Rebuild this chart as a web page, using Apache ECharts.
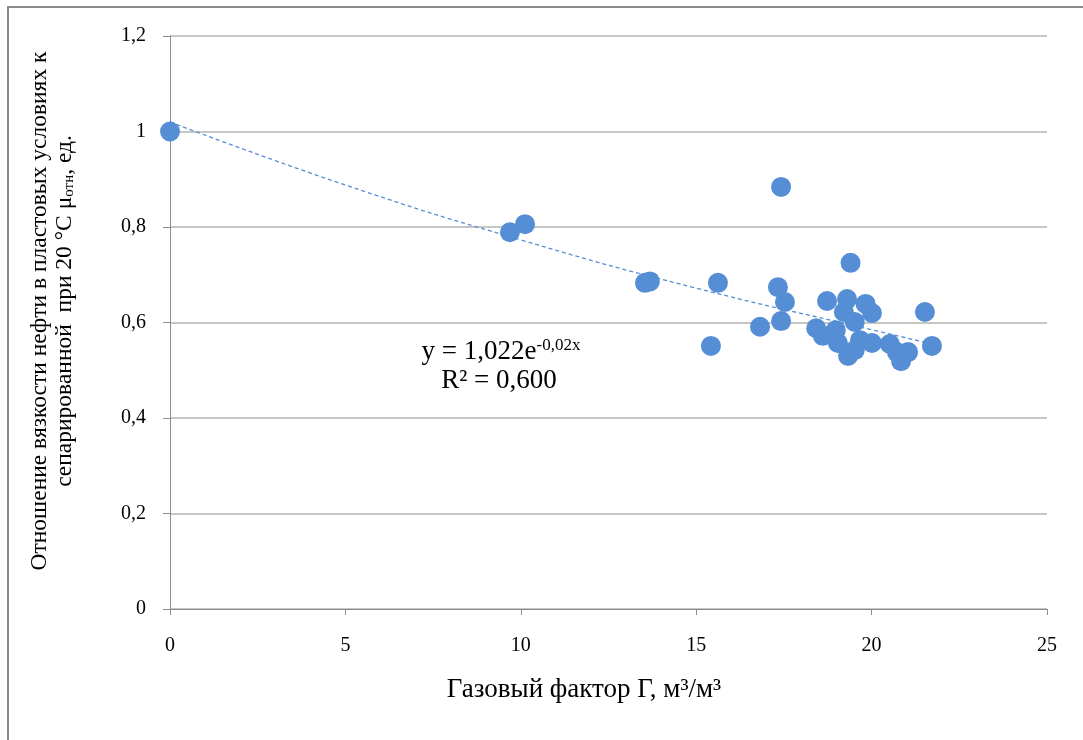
<!DOCTYPE html>
<html>
<head>
<meta charset="utf-8">
<script src="https://cdn.jsdelivr.net/npm/echarts@6/dist/echarts.min.js"></script>
<style>
html,body{margin:0;padding:0;background:#fff;}
#c{width:1083px;height:740px;}
</style>
</head>
<body>
<div id="c"></div>
<script>
// Gas factor (x) and relative viscosity (y)
const gasFactor = [0, 9.69, 10.12, 13.54, 13.68, 15.42, 15.62, 16.82, 17.33, 17.42, 17.42, 17.53,
  18.73, 18.42, 18.61, 18.98, 19.04, 19.40, 19.30, 19.21, 19.52, 19.52, 19.33, 19.67,
  19.83, 20.01, 20.01, 20.52, 20.72, 20.84, 21.04, 21.52, 21.72];
const viscosityRatio = [1.0, 0.789, 0.806, 0.683, 0.686, 0.551, 0.683, 0.591, 0.674, 0.603, 0.884, 0.643,
  0.645, 0.588, 0.572, 0.584, 0.557, 0.725, 0.649, 0.622, 0.601, 0.542, 0.530, 0.563,
  0.639, 0.620, 0.557, 0.555, 0.538, 0.519, 0.538, 0.622, 0.551];
// Trendline points
const trendX = [0, 5, 10, 15, 20, 21.72];
const trendY = [1.02, 0.888, 0.773, 0.672, 0.585, 0.555];
const xTicks = [0, 5, 10, 15, 20, 25];
const yTicks = [0, 0.2, 0.4, 0.6, 0.8, 1.0, 1.2];
const xTitle = 'Газовый фактор Г, м³/м³';
const yTitle1 = 'Отношение вязкости нефти в пластовых условиях к';
const yTitle2 = 'сепарированной  при 20 °С μ';
const yTitleSub = 'отн';
const yTitle3 = ', ед.';
const eq1 = 'y = 1,022e';
const eq1sup = '-0,02x';
const eq2 = 'R² = 0,600';

const FONT = '"Liberation Serif","DejaVu Serif",serif';
const BLUE = '#558ed5';

const chart = echarts.init(document.getElementById('c'), null, {renderer: 'canvas'});
const fmt = v => String(+v.toFixed(1)).replace('.', ',');

chart.setOption({
  animation: false,
  backgroundColor: '#fff',
  grid: {left: 170, right: 36, top: 36, bottom: 131},
  xAxis: {
    type: 'value', min: 0, max: 25, interval: 5,
    axisLine: {show: true, onZero: false, lineStyle: {color: '#8c8c8c', width: 1}},
    axisTick: {show: true, length: 6, lineStyle: {color: '#8c8c8c'}},
    splitLine: {show: false},
    axisLabel: {margin: 27, fontFamily: FONT, fontSize: 20, color: '#000'}
  },
  yAxis: {
    type: 'value', min: 0, max: 1.2, interval: 0.2,
    axisLine: {show: true, lineStyle: {color: '#8c8c8c', width: 1}},
    axisTick: {show: true, length: 7, lineStyle: {color: '#8c8c8c'}},
    splitLine: {show: true, lineStyle: {color: '#b3b3b3', width: 1.5}},
    axisLabel: {margin: 24, fontFamily: FONT, fontSize: 20, color: '#000', formatter: fmt}
  },
  series: [
    {
      type: 'scatter',
      data: gasFactor.map((x, i) => [x, viscosityRatio[i]]),
      symbol: 'circle', symbolSize: 20,
      itemStyle: {color: BLUE, opacity: 1},
      z: 2
    },
    {
      type: 'line',
      data: trendX.map((x, i) => [x, trendY[i]]),
      smooth: true, symbol: 'none',
      lineStyle: {color: BLUE, width: 1.3, type: [4, 3]},
      z: 3
    }
  ],
  graphic: [
    {type: 'line', shape: {x1: 7, y1: 7, x2: 1083, y2: 7}, style: {stroke: '#8a8a8a', lineWidth: 2}, silent: true},
    {type: 'line', shape: {x1: 8, y1: 6, x2: 8, y2: 740}, style: {stroke: '#8a8a8a', lineWidth: 2}, silent: true},
    {
      type: 'text', x: 584, y: 690,
      style: {text: xTitle, font: '27px ' + FONT, fill: '#000', textAlign: 'center', textVerticalAlign: 'middle'}
    },
    {
      type: 'text', x: 40, y: 311, rotation: Math.PI / 2,
      style: {text: yTitle1, font: '23.5px ' + FONT, fill: '#000', textAlign: 'center', textVerticalAlign: 'middle'}
    },
    {
      type: 'text', x: 65, y: 311, rotation: Math.PI / 2,
      style: {
        text: '{a|' + yTitle2 + '}{s|' + yTitleSub + '}{a|' + yTitle3 + '}',
        textAlign: 'center', textVerticalAlign: 'middle',
        rich: {
          a: {font: '23.5px ' + FONT, fill: '#000'},
          s: {font: '15px ' + FONT, fill: '#000', padding: [9, 0, 0, 0]}
        }
      }
    },
    {
      type: 'text', x: 501, y: 352,
      style: {
        text: '{a|' + eq1 + '}{s|' + eq1sup + '}',
        textAlign: 'center', textVerticalAlign: 'middle',
        rich: {
          a: {font: '27px ' + FONT, fill: '#000'},
          s: {font: '17px ' + FONT, fill: '#000', padding: [0, 0, 12, 0]}
        }
      }
    },
    {
      type: 'text', x: 499, y: 381,
      style: {text: eq2, font: '27px ' + FONT, fill: '#000', textAlign: 'center', textVerticalAlign: 'middle'}
    }
  ]
});
</script>
</body>
</html>
